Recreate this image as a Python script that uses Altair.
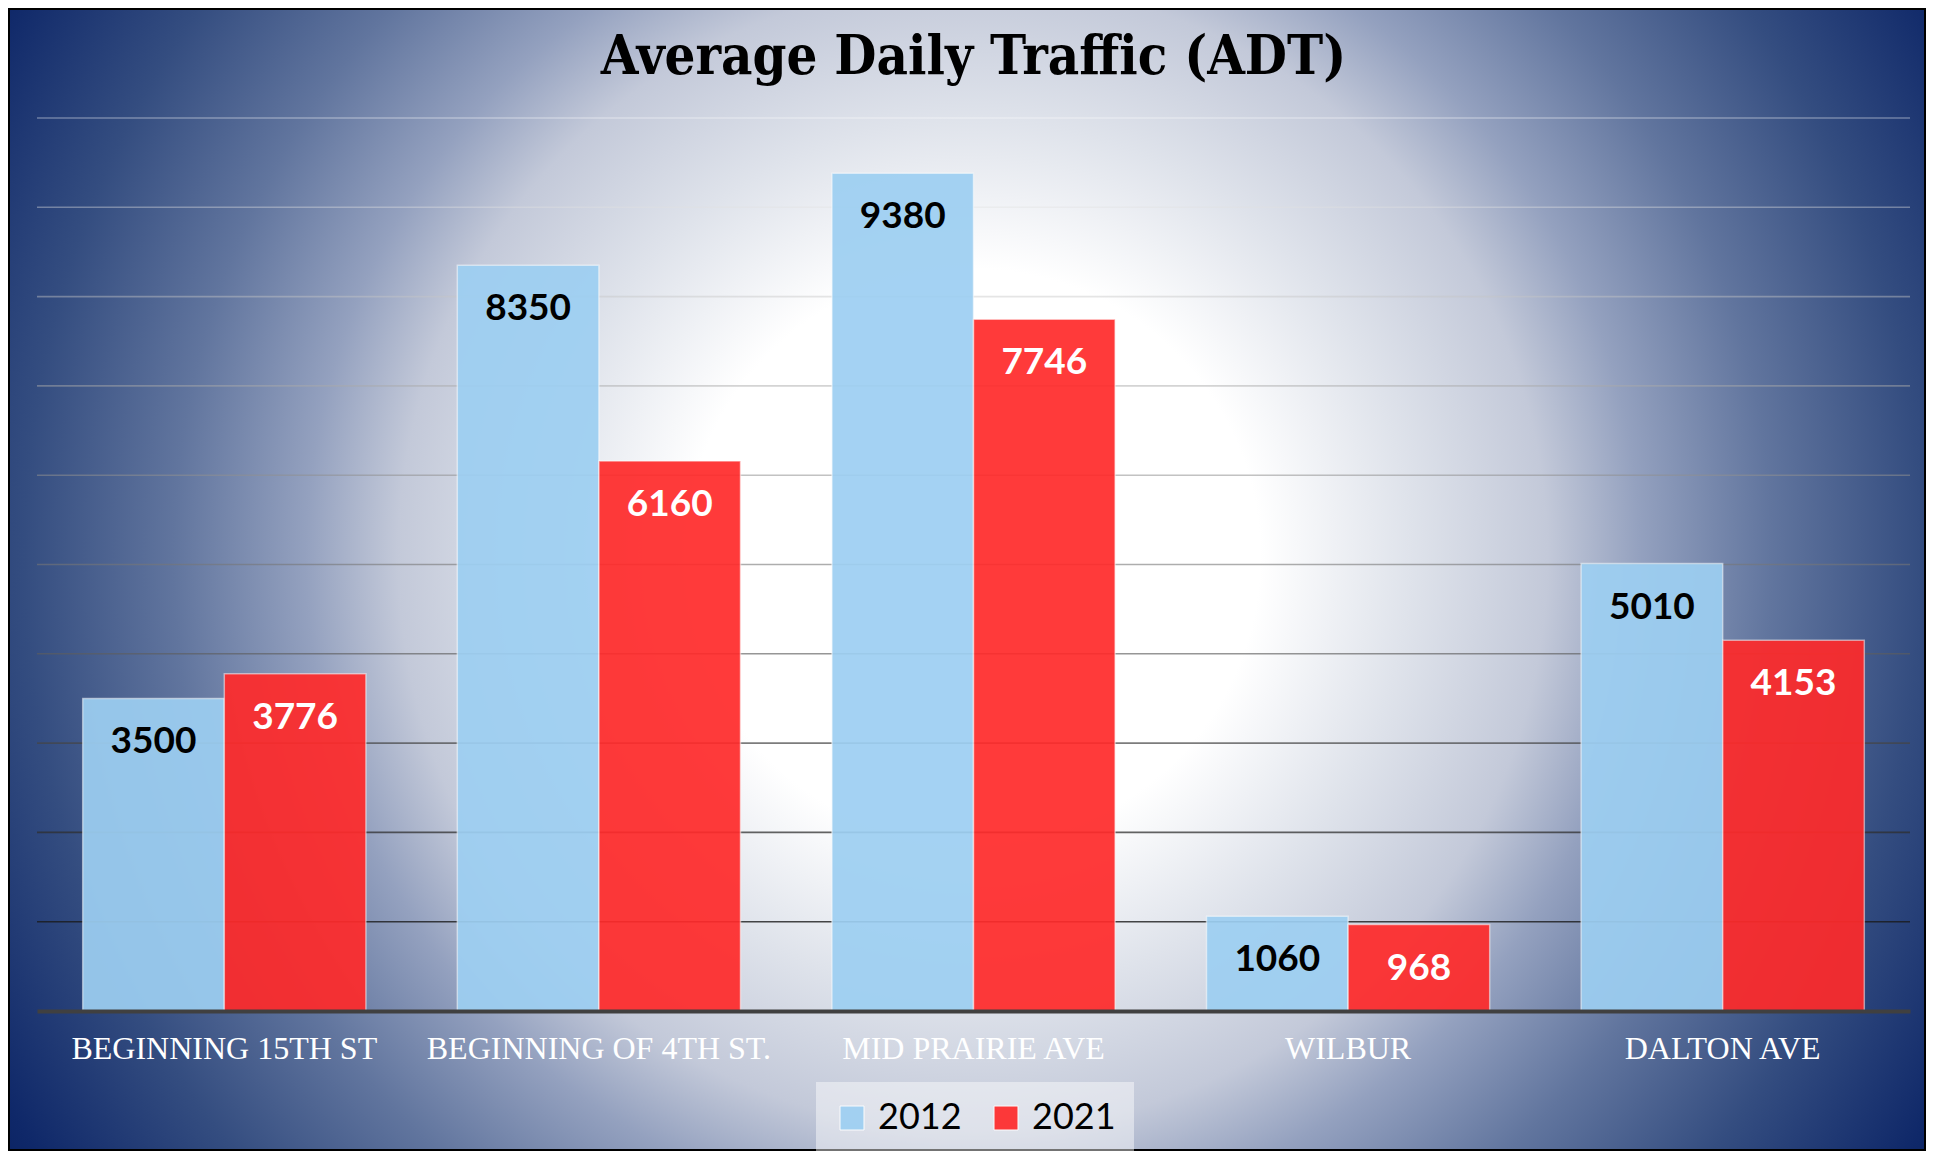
import altair as alt
import pandas as pd

# ---- data ----
locations = ["BEGINNING 15TH ST", "BEGINNING OF 4TH ST.", "MID PRAIRIE AVE", "WILBUR", "DALTON AVE"]
years = ["2012", "2021"]
adt_2012 = [3500, 8350, 9380, 1060, 5010]
adt_2021 = [3776, 6160, 7746, 968, 4153]
grid_values = [1000, 2000, 3000, 4000, 5000, 6000, 7000, 8000, 9000, 10000]
title_text = "Average Daily Traffic (ADT)"

rows = []
for loc, a, b in zip(locations, adt_2012, adt_2021):
    rows.append({"loc": loc, "year": years[0], "adt": a})
    rows.append({"loc": loc, "year": years[1], "adt": b})
df = pd.DataFrame(rows)

W, H = 1873, 893
PAD = {"left": 29, "top": 110, "right": 16, "bottom": 140}

bg_gradient = {
    "gradient": "radial",
    "x1": 0.503, "y1": 0.488, "r1": 0,
    "x2": 0.503, "y2": 0.488, "r2": 0.6,
    "stops": [
        {"offset": 0.0, "color": "#ffffff"},
        {"offset": 0.25, "color": "#ffffff"},
        {"offset": 0.38, "color": "#dfe3eb"},
        {"offset": 0.50, "color": "#c3c9d9"},
        {"offset": 0.58, "color": "#94a1bf"},
        {"offset": 0.695, "color": "#61759e"},
        {"offset": 0.825, "color": "#344d80"},
        {"offset": 0.965, "color": "#0f2869"},
        {"offset": 1.0, "color": "#0a2262"},
    ],
}

y_scale = alt.Scale(domain=[0, 10000], nice=False, zero=True)

background = alt.Chart(pd.DataFrame({"k": [0]})).mark_rect(
    fill=bg_gradient, stroke="black", strokeWidth=2
).encode(
    x=alt.value(-PAD["left"] + 1),
    x2=alt.value(W + PAD["right"] - 1),
    y=alt.value(-PAD["top"] + 1),
    y2=alt.value(H + PAD["bottom"] - 1),
)

grid = alt.Chart(pd.DataFrame({"g": grid_values})).mark_rule(strokeWidth=1.6).encode(
    y=alt.Y("g:Q", scale=y_scale, axis=None),
    stroke=alt.Stroke("g:Q", scale=alt.Scale(domain=[1000, 10000], range=["#1a1a1a", "#ffffff"]), legend=None),
    strokeOpacity=alt.StrokeOpacity("g:Q", scale=alt.Scale(domain=[1000, 10000], range=[0.8, 0.35]), legend=None),
)

x_enc = alt.X(
    "loc:N",
    sort=locations,
    scale=alt.Scale(paddingInner=0.244, paddingOuter=0.122),
    axis=alt.Axis(
        title=None,
        labelAngle=0,
        labelFont="Liberation Serif",
        labelFontSize=32,
        labelColor="white",
        labelPadding=22,
        labelLimit=0,
        ticks=False,
        grid=False,
        domainColor="#404040",
        domainWidth=4,
        zindex=1,
    ),
)
xoff_enc = alt.XOffset("year:N", sort=years, scale=alt.Scale(paddingInner=0, paddingOuter=0))

bars = alt.Chart(df).mark_bar(
    opacity=0.92, stroke="white", strokeOpacity=0.55, strokeWidth=1.5
).encode(
    x=x_enc,
    xOffset=xoff_enc,
    y=alt.Y("adt:Q", scale=y_scale, axis=None),
    color=alt.Color(
        "year:N",
        scale=alt.Scale(domain=years, range=["#9dcff2", "#ff2a2a"]),
        legend=alt.Legend(
            title=None,
            orient="none",
            legendX=779,
            legendY=964,
            direction="horizontal",
            fillColor="rgba(255,255,255,0.45)",
            padding=18,
            symbolType="square",
            symbolSize=576,
            symbolStrokeColor="white",
            symbolStrokeWidth=1,
            labelFont="Lato",
            labelFontSize=36,
            labelColor="black",
            labelOffset=8,
            columnPadding=26,
            zindex=1,
        ),
    ),
)

labels = alt.Chart(df).mark_text(
    font="Lato", fontSize=37, fontWeight="bold", baseline="middle", dy=44
).encode(
    x=x_enc,
    xOffset=xoff_enc,
    y=alt.Y("adt:Q", scale=y_scale, axis=None),
    text=alt.Text("adt:Q", format="d"),
    color=alt.condition(alt.datum.year == years[0], alt.value("black"), alt.value("white")),
)

chart = alt.layer(background, grid, bars, labels).properties(
    width=W,
    height=H,
    padding=PAD,
    autosize=alt.AutoSizeParams(type="none"),
    title=alt.TitleParams(
        text=title_text,
        font="DejaVu Serif Condensed",
        fontWeight="bold",
        fontSize=54,
        color="black",
        anchor="middle",
        frame="group",
        baseline="alphabetic",
        offset=-120,
        zindex=1,
    ),
).configure_view(stroke=None)

chart.save("out.html", embed_options={"renderer": "svg", "actions": False})
